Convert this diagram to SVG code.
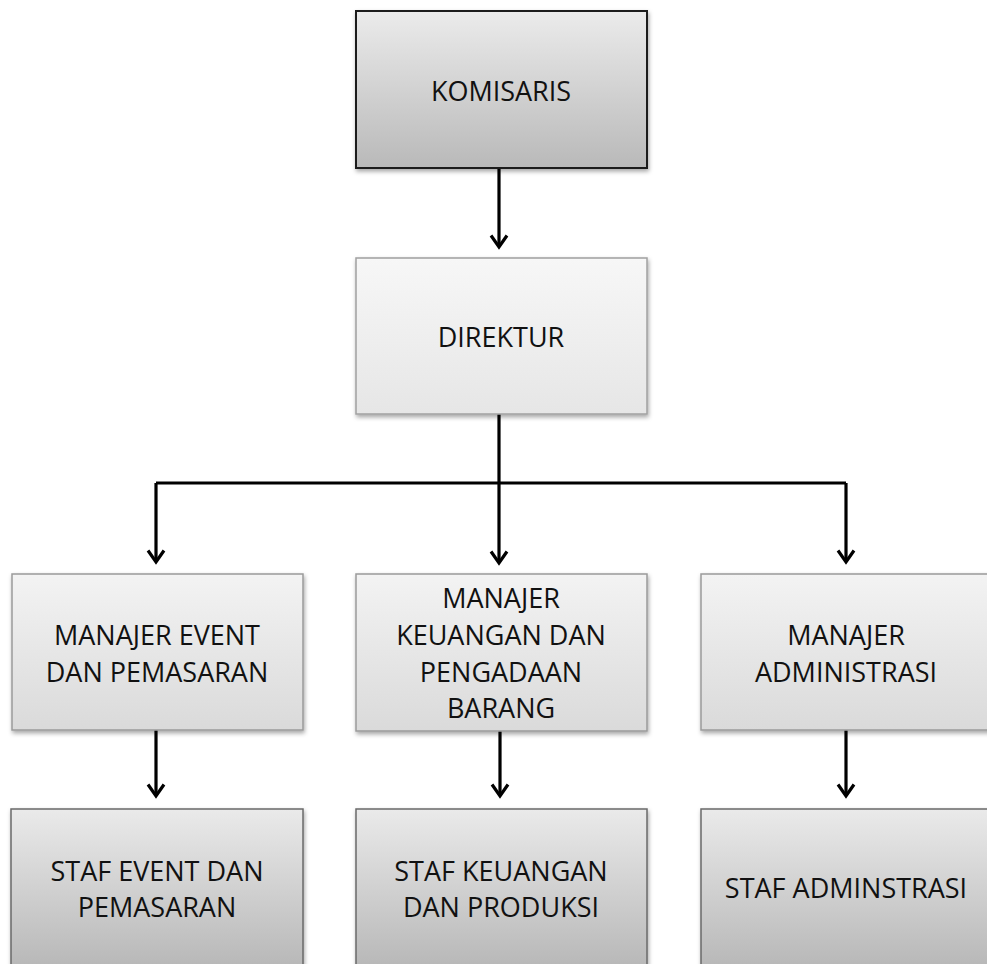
<svg xmlns="http://www.w3.org/2000/svg" width="987" height="964" viewBox="0 0 987 964">
<style>
  text { font-family: "Open Sans", "Noto Sans", "Liberation Sans", sans-serif; font-size: 27px; fill: #111; text-anchor: middle; }
  .conn { fill: none; stroke: #000; stroke-width: 3.2; }
  .dark { fill: url(#gDark); stroke: #1a1a1a; stroke-width: 2; filter: url(#sh); }
  .light { fill: url(#gLight); stroke: #a0a0a0; stroke-width: 1.5; filter: url(#sh); }
  .mgr { fill: url(#gMgr); stroke: #9a9a9a; stroke-width: 1.5; filter: url(#sh); }
  .staff { fill: url(#gStaff); stroke: #6a6a6a; stroke-width: 1.5; filter: url(#sh); }
</style>
<defs>
  <linearGradient id="gDark" x1="0" y1="0" x2="0" y2="1">
    <stop offset="0" stop-color="#ebebeb"/>
    <stop offset="1" stop-color="#b9b9b9"/>
  </linearGradient>
  <linearGradient id="gLight" x1="0" y1="0" x2="0" y2="1">
    <stop offset="0" stop-color="#f7f7f7"/>
    <stop offset="1" stop-color="#e6e6e6"/>
  </linearGradient>
  <linearGradient id="gMgr" x1="0" y1="0" x2="0" y2="1">
    <stop offset="0" stop-color="#f3f3f3"/>
    <stop offset="1" stop-color="#dadada"/>
  </linearGradient>
  <linearGradient id="gStaff" x1="0" y1="0" x2="0" y2="1">
    <stop offset="0" stop-color="#eaeaea"/>
    <stop offset="1" stop-color="#b4b4b4"/>
  </linearGradient>
  <filter id="sh" x="-5%" y="-5%" width="115%" height="120%">
    <feDropShadow dx="1" dy="2.5" stdDeviation="2" flood-color="#000" flood-opacity="0.35"/>
  </filter>
  <marker id="arr" markerUnits="userSpaceOnUse" viewBox="-16 -12 20 24" refX="0" refY="0" markerWidth="20" markerHeight="24" orient="auto" overflow="visible">
    <path d="M -11.5 -8 L 0 0 L -11.5 8" fill="none" stroke="#000" stroke-width="3.2" stroke-linejoin="miter"/>
  </marker>
</defs>

<g id="connectors">
  <path class="conn" d="M 499 168 L 499 247" marker-end="url(#arr)"/>
  <path class="conn" d="M 499 414 L 499 483 M 156 483 L 846 483"/>
  <path class="conn" d="M 156 483 L 156 562" marker-end="url(#arr)"/>
  <path class="conn" d="M 499 483 L 499 563" marker-end="url(#arr)"/>
  <path class="conn" d="M 846 483 L 846 562" marker-end="url(#arr)"/>
  <path class="conn" d="M 156 730 L 156 796" marker-end="url(#arr)"/>
  <path class="conn" d="M 500 731 L 500 796" marker-end="url(#arr)"/>
  <path class="conn" d="M 846 730 L 846 796" marker-end="url(#arr)"/>
</g>

<g id="komisaris">
  <rect class="dark" x="356" y="11" width="291" height="157"/>
  <text x="501" y="101">KOMISARIS</text>
</g>

<g id="direktur">
  <rect class="light" x="356" y="258" width="291" height="156"/>
  <text x="501" y="347">DIREKTUR</text>
</g>

<g id="manajer-event">
  <rect class="mgr" x="12" y="574" width="291" height="156"/>
  <text x="157" y="645">MANAJER EVENT</text>
  <text x="157" y="682">DAN PEMASARAN</text>
</g>

<g id="manajer-keuangan">
  <rect class="mgr" x="356" y="574" width="291" height="157"/>
  <text x="501" y="608">MANAJER</text>
  <text x="501" y="645">KEUANGAN DAN</text>
  <text x="501" y="682">PENGADAAN</text>
  <text x="501" y="718">BARANG</text>
</g>

<g id="manajer-administrasi">
  <rect class="mgr" x="701" y="574" width="292" height="156"/>
  <text x="846" y="645">MANAJER</text>
  <text x="846" y="682">ADMINISTRASI</text>
</g>

<g id="staf-event">
  <rect class="staff" x="11" y="809" width="292" height="170"/>
  <text x="157" y="881">STAF EVENT DAN</text>
  <text x="157" y="917">PEMASARAN</text>
</g>

<g id="staf-keuangan">
  <rect class="staff" x="356" y="809" width="291" height="170"/>
  <text x="501" y="881">STAF KEUANGAN</text>
  <text x="501" y="917">DAN PRODUKSI</text>
</g>

<g id="staf-administrasi">
  <rect class="staff" x="701" y="809" width="292" height="170"/>
  <text x="846" y="898">STAF ADMINSTRASI</text>
</g>
</svg>
